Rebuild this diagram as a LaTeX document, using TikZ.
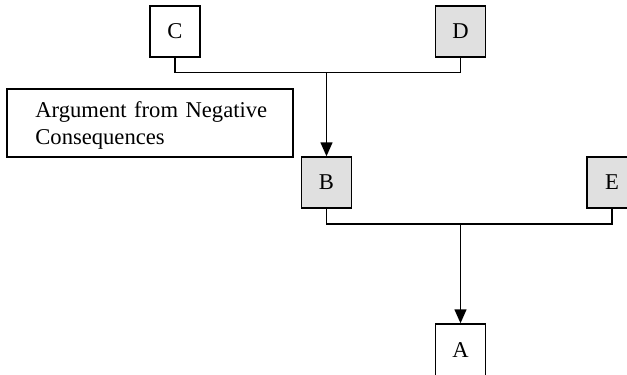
\documentclass[tikz,border=0pt]{standalone}
\usepackage{fontspec}
\setmainfont{Liberation Serif}
\usetikzlibrary{arrows.meta}
\definecolor{boxgray}{RGB}{224,224,224}
\begin{document}
\begin{tikzpicture}[x=0.5pt,y=-0.5pt,
  box/.style={draw, line width=0.75pt, minimum width=25pt, minimum height=25.5pt, inner sep=0pt, font=\fontsize{11.3}{13.5}\selectfont},
  shaded/.style={box, fill=boxgray},
  notebox/.style={draw, line width=0.75pt, minimum width=143pt, minimum height=34pt, inner sep=0pt},
  notetext/.style={inner sep=0pt, text width=120pt, align=left, font=\fontsize{11.3}{13.2}\selectfont},
  link/.style={line width=0.75pt},
  arrowlink/.style={link, -{Triangle[width=6pt,length=7pt]}}]
\useasboundingbox (0,0) rectangle (627,375);
\node[box] (C) at (175,31.5) {C};
\node[shaded] (D) at (460.5,31.5) {D};
\node[notebox] (arg) at (150,123) {};
\node[notetext, anchor=north west] (argtext) at (35,101.5) {Argument from Negative\\Consequences};
\node[shaded] (B) at (326.5,182.5) {B};
\node[shaded] (E) at (612,182.5) {E};
\node[box, minimum height=30pt] (A) at (460.5,354) {\raisebox{4pt}{A}};
\coordinate (m1) at (326.5,72.5);
\coordinate (m2) at (460.5,224);
\draw[link] (C.south) |- (m1) -| (D.south);
\draw[arrowlink] (m1) -- (B.north);
\draw[link] (B.south) |- (m2) -| (E.south);
\draw[arrowlink] (m2) -- (A.north);
\end{tikzpicture}
\end{document}
